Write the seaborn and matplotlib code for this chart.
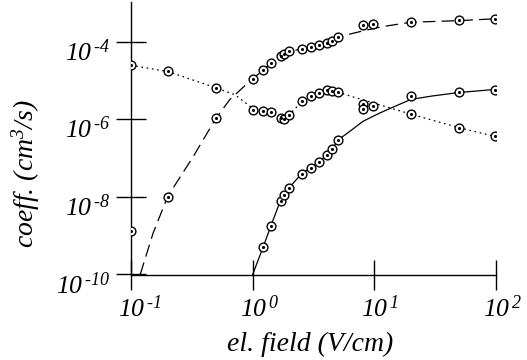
import matplotlib
matplotlib.use('Agg')
import matplotlib.pyplot as plt
import matplotlib.transforms as mtransforms
import seaborn as sns

# --- points ---
# dashed series (upper branch + low-field points)
dash_x = [0.1, 0.2, 0.5, 1.0, 1.22, 1.41, 1.7, 1.82, 2.0, 2.53, 3.0, 3.5, 4.05, 4.5, 5.05, 8.0, 9.8, 20, 50, 98]
dash_y = [1.29e-9, 1.02e-8, 1.07e-6, 1.12e-5, 1.82e-5, 2.82e-5, 4.37e-5, 4.79e-5, 5.62e-5, 6.46e-5,
          7.24e-5, 8.32e-5, 9.33e-5, 1.05e-4, 1.32e-4, 2.63e-4, 2.88e-4, 3.24e-4, 3.55e-4, 3.80e-4]

# dotted series
dot_x = [0.1, 0.2, 0.5, 1.0, 1.22, 1.41, 1.7, 1.82, 2.0, 2.53, 3.0, 3.5, 4.05, 4.5, 5.05, 8.0, 8.0, 9.8, 20, 50, 98]
dot_y = [2.45e-5, 1.70e-5, 6.46e-6, 1.78e-6, 1.66e-6, 1.51e-6, 1.07e-6, 1.02e-6, 1.32e-6, 2.88e-6, 3.89e-6,
         4.79e-6, 5.62e-6, 5.50e-6, 4.90e-6, 2.45e-6, 1.86e-6, 2.24e-6, 1.38e-6, 6.03e-7, 3.63e-7]

# solid series
sol_x = [1.22, 1.41, 1.7, 1.82, 2.0, 2.53, 3.0, 3.5, 4.05, 4.5, 5.05, 20, 50, 98]
sol_y = [5.13e-10, 1.78e-9, 7.94e-9, 1.12e-8, 1.74e-8, 3.98e-8, 5.50e-8, 8.13e-8, 1.17e-7, 1.74e-7, 2.95e-7,
         3.89e-6, 4.90e-6, 5.75e-6]

# --- fitted curves ---
dash_curve_x = [0.119, 0.152, 0.2, 0.325, 0.5, 0.65, 0.716, 1.0, 1.22, 1.41, 1.7, 2.0, 2.53, 3.0, 3.5, 4.05,
                4.5, 5.05, 8.4, 11.8, 20, 50, 100]
dash_curve_y = [1e-10, 1.17e-9, 1.02e-8, 1.10e-7, 1.07e-6, 3.24e-6, 4.27e-6, 1.12e-5, 1.82e-5, 2.82e-5, 4.37e-5,
                5.62e-5, 6.46e-5, 7.24e-5, 8.32e-5, 9.33e-5, 1.05e-4, 1.32e-4, 1.95e-4, 2.45e-4, 3.16e-4,
                3.47e-4, 3.89e-4]

dot_curve_x = [0.1, 0.2, 0.5, 0.716, 1.0, 1.22, 1.41, 1.7, 1.82, 2.0, 2.53, 3.0, 3.5, 4.05, 4.5, 5.05, 20, 50, 100]
dot_curve_y = [2.45e-5, 1.70e-5, 6.46e-6, 4.27e-6, 1.91e-6, 1.66e-6, 1.48e-6, 1.10e-6, 1.07e-6, 1.32e-6, 2.82e-6,
               3.89e-6, 4.79e-6, 5.62e-6, 5.62e-6, 4.90e-6, 1.35e-6, 6.03e-7, 3.55e-7]

sol_curve_x = [1.0, 1.22, 1.41, 1.7, 2.0, 2.53, 3.0, 3.5, 4.05, 4.5, 5.05, 6.3, 8.1, 11.1, 15.2, 20, 30, 50, 100]
sol_curve_y = [1e-10, 5.13e-10, 1.78e-9, 8.32e-9, 1.74e-8, 3.98e-8, 5.62e-8, 8.13e-8, 1.17e-7, 1.74e-7, 2.95e-7,
               4.90e-7, 8.91e-7, 1.45e-6, 2.24e-6, 3.24e-6, 3.98e-6, 4.90e-6, 5.89e-6]

x_ticks = [0.1, 1, 10, 100]
x_ticklabels = ['-1', '0', '1', '2']
y_ticks = [1e-10, 1e-8, 1e-6, 1e-4]
y_ticklabels = ['-10', '-8', '-6', '-4']

# --- style ---
sns.set_style('ticks')
plt.rcParams['font.family'] = ['Liberation Serif', 'DejaVu Serif']
plt.rcParams['mathtext.fontset'] = 'custom'
plt.rcParams['mathtext.rm'] = 'Liberation Serif:italic'
plt.rcParams['mathtext.it'] = 'Liberation Serif:italic'
plt.rcParams['lines.scale_dashes'] = False
tick_fontsize = 18.5
label_fontsize = 20

fig = plt.figure(figsize=(5.27, 3.6), dpi=100)
ax = fig.add_axes([0.2486, 0.2375, 0.6926, 0.757])
ax.set(xscale='log', yscale='log')

sns.lineplot(x=dash_curve_x, y=dash_curve_y, ax=ax, color='black', lw=0.9,
             linestyle=(0, (9, 4.5)), sort=False, estimator=None)
sns.lineplot(x=dot_curve_x, y=dot_curve_y, ax=ax, color='black', lw=0.9,
             linestyle=(0, (1.2, 2.6)), sort=False, estimator=None)
sns.lineplot(x=sol_curve_x, y=sol_curve_y, ax=ax, color='black', lw=0.9,
             sort=False, estimator=None)

for xs, ys in [(dash_x, dash_y), (dot_x, dot_y), (sol_x, sol_y)]:
    sns.scatterplot(x=xs, y=ys, ax=ax, marker='o', s=40, facecolor='white',
                    edgecolor='black', linewidth=1.0, zorder=3)
    sns.scatterplot(x=xs, y=ys, ax=ax, marker='o', s=5, color='black',
                    linewidth=0, zorder=4)

ax.set_xlim(0.1, 100)
ax.set_ylim(1e-10, 1.05e-3)
ax.set_xticks(x_ticks, labels=[r'$10^{\,\text{%s}}$' % t for t in x_ticklabels])
ax.set_yticks(y_ticks, labels=[r'$10^{\,\text{%s}}$' % t for t in y_ticklabels])
ax.minorticks_off()
ax.tick_params(direction='inout', length=22, width=1.0, color='black',
               labelsize=tick_fontsize, labelcolor='black', pad=4)

# "10" centred under the x ticks, sitting just below the y ticks
for lab in ax.get_xticklabels():
    lab.set_horizontalalignment('left')
    lab.set_transform(lab.get_transform() +
                      mtransforms.ScaledTranslation(-13 / 100, 0, fig.dpi_scale_trans))
for lab in ax.get_yticklabels():
    lab.set_verticalalignment('baseline')
    lab.set_transform(lab.get_transform() +
                      mtransforms.ScaledTranslation(0, -19 / 100, fig.dpi_scale_trans))

sns.despine(ax=ax)
for side in ['left', 'bottom']:
    ax.spines[side].set_linewidth(1.0)
    ax.spines[side].set_color('black')

ax.set_xlabel('el. field (V/cm)', fontsize=label_fontsize, style='italic', color='black')
ax.set_ylabel(r'coeff. (cm$^{3}$/s)', fontsize=label_fontsize, style='italic', color='black')
ax.xaxis.set_label_coords(0.49, -0.21)
ax.yaxis.set_label_coords(-0.244, 0.369)

fig.savefig('out.png', dpi=100, facecolor='white')
